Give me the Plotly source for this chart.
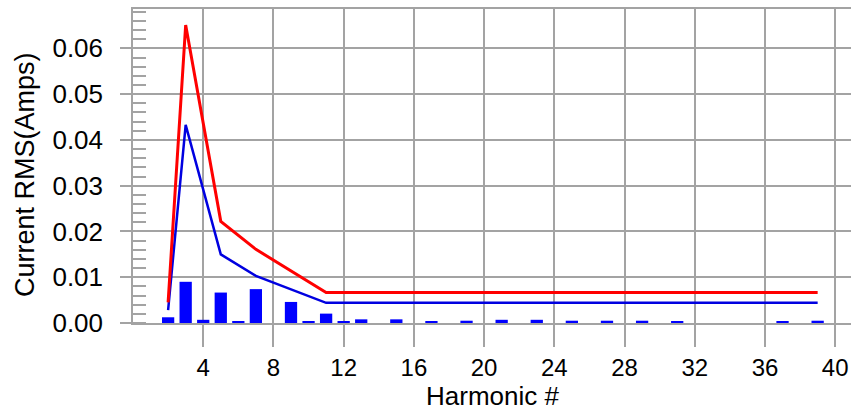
import plotly.graph_objects as go

# Harmonic spectrum: measured per-harmonic current (bars) and two envelope lines
harmonics = list(range(2, 40))
bar_values = [
    0.00125, 0.0090, 0.0007, 0.00665, 0.0003, 0.0074, 0.0, 0.0046,  # 2-9
    0.0003, 0.00205, 0.0003, 0.0008, 0.0, 0.0008, 0.0, 0.0003,       # 10-17
    0.0, 0.0005, 0.0, 0.0007, 0.0, 0.0007, 0.0, 0.0005,              # 18-25
    0.0, 0.0005, 0.0, 0.0005, 0.0, 0.0003, 0.0, 0.0,                 # 26-33
    0.0, 0.0, 0.0, 0.0003, 0.0, 0.0005,                              # 34-39
]

limit_x = [2, 3, 5, 7, 11, 39]
red_values = [0.0045, 0.0651, 0.0222, 0.0161, 0.00665, 0.00665]
blue_values = [0.0028, 0.0433, 0.0150, 0.0103, 0.0044, 0.0044]

x_ticks = [4, 8, 12, 16, 20, 24, 28, 32, 36, 40]

GRID = "#a3a3a3"
FONT = "Liberation Sans, Arial, sans-serif"

fig = go.Figure()
fig.add_trace(go.Bar(
    x=harmonics, y=bar_values, width=0.7,
    marker=dict(color="#0000ff", line=dict(width=0)),
))
fig.add_trace(go.Scatter(
    x=limit_x, y=blue_values, mode="lines",
    line=dict(color="#0000e0", width=2.5),
))
fig.add_trace(go.Scatter(
    x=limit_x, y=red_values, mode="lines",
    line=dict(color="#ff0000", width=3),
))

fig.update_layout(
    width=851, height=412,
    margin=dict(l=133, r=0, t=9, b=89),
    paper_bgcolor="white", plot_bgcolor="white",
    showlegend=False,
    font=dict(family=FONT, color="black"),
    xaxis=dict(
        range=[0, 40.9], tickvals=x_ticks,
        ticks="outside", ticklen=22, tickwidth=1.5, tickcolor=GRID,
        showgrid=True, gridcolor=GRID, gridwidth=1.5,
        showline=True, linecolor=GRID, linewidth=1.5, mirror=True,
        zeroline=False, tickfont=dict(size=24), ticklabelstandoff=0,
    ),
    yaxis=dict(
        range=[0, 0.0686], dtick=0.01, tick0=0, tickformat=".2f",
        ticks="outside", ticklen=11, tickwidth=1.5, tickcolor=GRID,
        showgrid=True, gridcolor=GRID, gridwidth=1.5,
        showline=True, linecolor=GRID, linewidth=1.5,
        zeroline=False, tickfont=dict(size=26), ticklabelstandoff=12,
        minor=dict(dtick=0.002, tick0=0, ticks="inside", ticklen=13,
                   tickwidth=1.5, tickcolor=GRID, showgrid=False),
    ),
    annotations=[
        dict(text="Harmonic #", xref="paper", yref="paper", x=0.5, y=-0.2325,
             xanchor="center", yanchor="middle", showarrow=False,
             font=dict(size=26)),
        dict(text="Current RMS(Amps)", xref="paper", yref="paper",
             x=-0.1504, y=0.471, xanchor="center", yanchor="middle",
             textangle=-90, showarrow=False, font=dict(size=27)),
    ],
)

fig.write_html("out.html")
